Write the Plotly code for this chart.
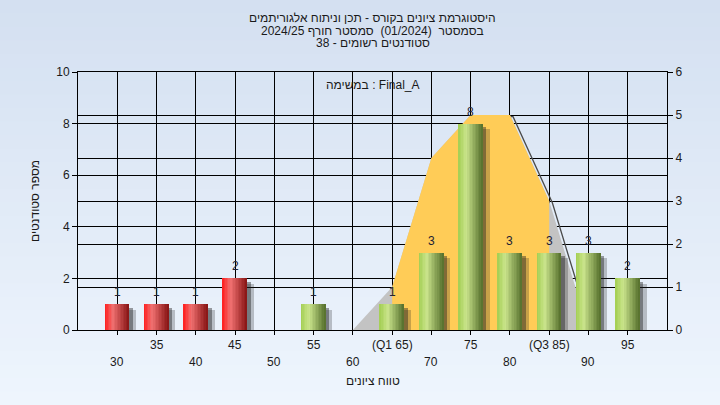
import plotly.graph_objects as go

# ---------------- data ----------------
CATEGORIES = [30, 35, 40, 45, 50, 55, 60, 65, 70, 75, 80, 85, 90, 95]
STUDENTS = [1, 1, 1, 2, 0, 1, 0, 1, 3, 8, 3, 3, 3, 2]
X_TICK_LABELS = ["30", "35", "40", "45", "50", "55", "60", "(Q1 65)",
                 "70", "75", "80", "(Q3 85)", "90", "95"]
DIST_X = [60, 65, 70, 75, 80, 85, 90]
DIST_Y = [0, 1, 4, 5, 5, 3, 0]
Q1 = 65
Q3 = 85
PASS_GRADE = 55

TITLE_LINES = [
    "היסטוגרמת ציונים בקורס - תכן וניתוח אלגוריתמים",
    "בסמסטר\u00a0 (01/2024)\u00a0 סמסטר חורף 2024/25",
    "סטודנטים רשומים - 38",
]
TASK_LABEL = "במשימה : Final_A"
X_TITLE = "טווח ציונים"
Y_TITLE = "מספר סטודנטים"

# ---------------- style ----------------
FONT = "Liberation Sans, Arial, sans-serif"
TEXT_COLOR = "#1a1a1a"
BAR_W = 3.1
N_SLICES = 16
RED_STOPS = [(255, 28, 28), (240, 112, 112), (135, 20, 20)]
GREEN_STOPS = [(162, 206, 82), (202, 228, 140), (84, 110, 44)]
MID_POS = 0.33


def grad(stops, t):
    a, b, c = stops
    if t <= MID_POS:
        u = t / MID_POS
        p, q = a, b
    else:
        u = (t - MID_POS) / (1 - MID_POS)
        p, q = b, c
    return "rgb(%d,%d,%d)" % tuple(round(p[i] + (q[i] - p[i]) * u) for i in range(3))


fig = go.Figure()

# --- distribution area (right axis, drawn below bars) ---
fig.add_trace(go.Scatter(
    x=[v + 0.4 for v in DIST_X], y=[v - 0.04 for v in DIST_Y], mode="lines",
    line=dict(color="#4a4a4a", width=1.3), hoverinfo="skip", yaxis="y"))
fig.add_trace(go.Scatter(
    x=DIST_X, y=DIST_Y, mode="lines", fill="tozeroy", fillcolor="#c3c3c3",
    line=dict(width=0, color="#c3c3c3"), hoverinfo="skip", yaxis="y"))
iq_x = [x for x in DIST_X if Q1 <= x <= Q3]
iq_y = [y for x, y in zip(DIST_X, DIST_Y) if Q1 <= x <= Q3]
fig.add_trace(go.Scatter(
    x=iq_x, y=iq_y, mode="lines", fill="tozeroy", fillcolor="#ffcc57",
    line=dict(width=0, color="#ffcc57"), hoverinfo="skip", yaxis="y"))

# --- bar shadows ---
nz = [(c, v) for c, v in zip(CATEGORIES, STUDENTS) if v > 0]
for dx, drop, col in [(0.85, 0.22, "rgba(30,30,30,0.25)"), (0.45, 0.14, "rgba(30,30,30,0.42)")]:
    fig.add_trace(go.Bar(
        x=[c for c, v in nz], y=[v - drop for c, v in nz], width=BAR_W,
        offset=-BAR_W / 2 + dx, marker=dict(color=col, line=dict(width=0)),
        hoverinfo="skip", yaxis="y2"))

# --- cylinder-like bars built from vertical slices ---
for k in range(N_SLICES):
    t = (k + 0.5) / N_SLICES
    colors = [grad(RED_STOPS if c < PASS_GRADE else GREEN_STOPS, t) for c in CATEGORIES]
    fig.add_trace(go.Bar(
        x=CATEGORIES, y=STUDENTS, width=BAR_W / N_SLICES * 1.02,
        offset=-BAR_W / 2 + k * BAR_W / N_SLICES,
        marker=dict(color=colors, line=dict(width=0)), yaxis="y2"))

# ---------------- layout ----------------
L, R, T, B = 78, 53, 72, 75
PW, PH = 720 - L - R, 405 - T - B

shapes = []
N_BANDS = 30
top_c, bot_c = (212, 224, 241), (238, 245, 253)
for i in range(N_BANDS):
    f = i / (N_BANDS - 1)
    col = "rgb(%d,%d,%d)" % tuple(round(top_c[j] + (bot_c[j] - top_c[j]) * f) for j in range(3))
    y_hi = 1 + T / PH - i * (405 / PH) / N_BANDS
    y_lo = y_hi - (405 / PH) / N_BANDS - 0.002
    shapes.append(dict(type="rect", xref="paper", yref="paper",
                       x0=-L / PW - 0.01, x1=1 + R / PW + 0.01, y0=y_lo, y1=y_hi,
                       fillcolor=col, line=dict(width=0), layer="below"))

tf = dict(family=FONT, size=12, color=TEXT_COLOR)
annotations = []
for i, line in enumerate(TITLE_LINES):
    annotations.append(dict(text=line, xref="paper", yref="paper", x=0.5, y=1,
                            yanchor="middle", yshift=[54, 41, 29][i], showarrow=False,
                            font=tf))
annotations.append(dict(text=TASK_LABEL, xref="paper", yref="paper", x=0.5, y=1,
                        yanchor="middle", yshift=-13, showarrow=False, font=tf))
for i, (c, lab) in enumerate(zip(CATEGORIES, X_TICK_LABELS)):
    annotations.append(dict(text=lab, xref="x", yref="paper", x=c, y=0,
                            yanchor="middle", yshift=-15 if i % 2 else -32,
                            showarrow=False, font=tf))
# value labels above bars
for c, v in nz:
    annotations.append(dict(text=str(v), xref="x", yref="y2", x=c, y=v,
                            yanchor="bottom", yshift=3, showarrow=False,
                            font=dict(family=FONT, size=12, color="#222233")))
annotations.append(dict(text=X_TITLE, xref="paper", yref="paper", x=0.5, y=0,
                        yanchor="middle", yshift=-51, showarrow=False, font=tf))
annotations.append(dict(text=Y_TITLE, xref="paper", yref="paper", x=0, y=0.5,
                        xanchor="center", yanchor="middle", xshift=-43, textangle=-90,
                        showarrow=False, font=tf))

axis_common = dict(showgrid=True, gridcolor="black", gridwidth=1, showline=True,
                   linecolor="black", linewidth=1, ticks="outside", tickcolor="black",
                   zeroline=False, tickfont=tf)

fig.update_layout(
    width=720, height=405,
    margin=dict(l=L, r=R, t=T, b=B, pad=0),
    paper_bgcolor="rgb(225,234,247)",
    plot_bgcolor="#b4b4b4",
    barmode="overlay",
    bargap=0,
    showlegend=False,
    font=tf,
    xaxis=dict(range=[25, 100], tickvals=CATEGORIES, showticklabels=False,
               mirror=True, ticklen=4, **axis_common),
    yaxis=dict(range=[0, 6], dtick=1, side="right", ticklen=5, **axis_common),
    yaxis2=dict(range=[0, 10], dtick=2, side="left", overlaying="y", anchor="x",
                ticklen=5, **axis_common),
    shapes=shapes,
    annotations=annotations,
)

fig.write_html("out.html", config={"displayModeBar": False},
               post_script="document.body.style.margin='0';document.body.style.padding='0';")
